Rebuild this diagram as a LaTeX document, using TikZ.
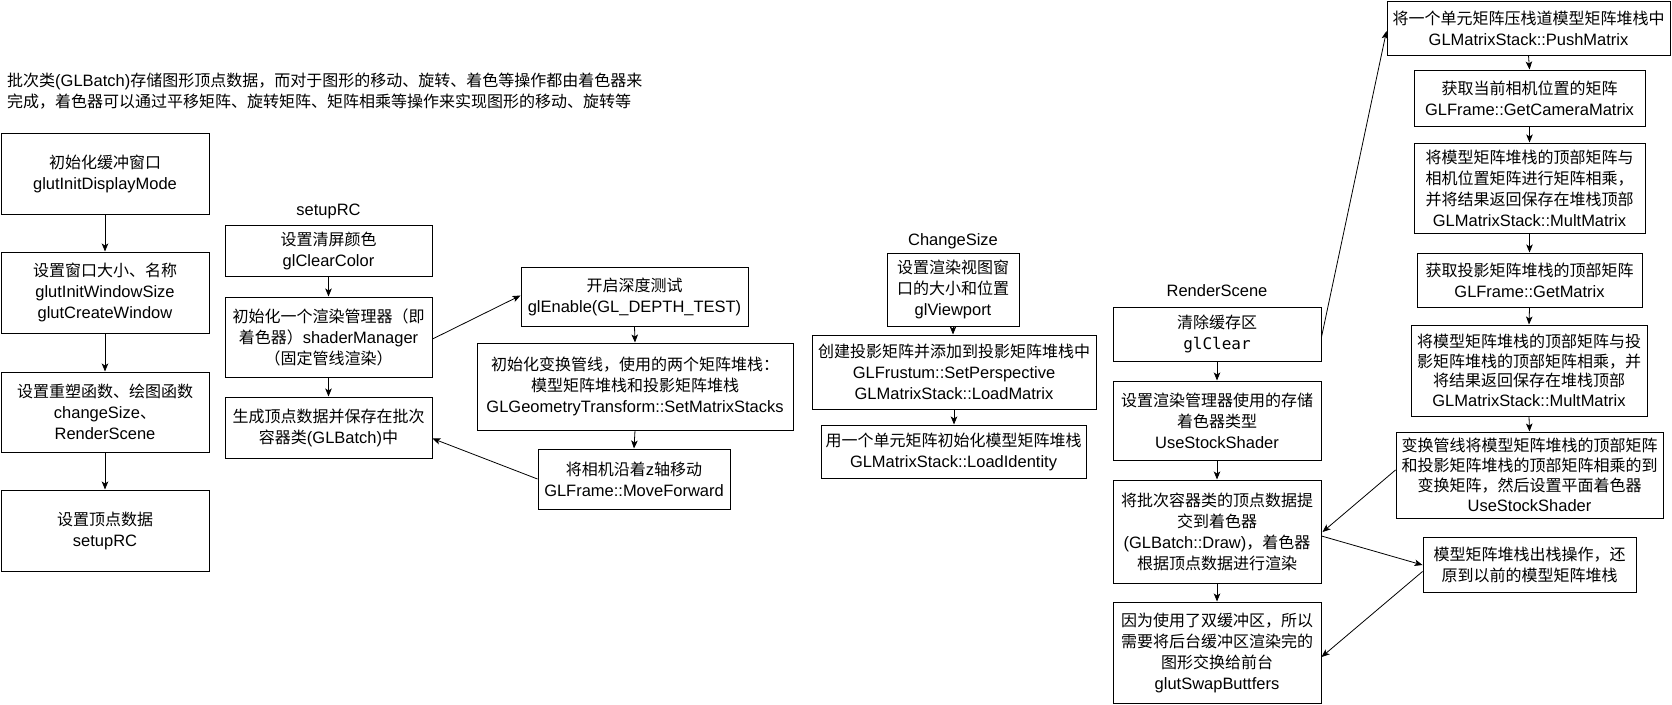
\documentclass[tikz,border=0pt]{standalone}
\usepackage{fontspec}
\setmainfont[Scale=1.03]{Liberation Sans}
\newfontfamily\zhfont{Noto Sans CJK SC}
\newfontfamily\codefont{DejaVu Sans Mono}
\newcommand\zh[1]{{\zhfont #1}}
\newcommand\fs{\fontsize{16}{21}\selectfont}
\usetikzlibrary{arrows.meta,calc}
\tikzset{
  box/.style={draw, line width=1pt, inner sep=0pt, align=center, font=\fs},
  lbl/.style={inner sep=0pt, font=\fs},
  arr/.style={-{Stealth[length=8pt,width=6.5pt,inset=2pt]}, line width=0.8pt},
}
\begin{document}
\begin{tikzpicture}[x=1pt,y=-1pt]
\useasboundingbox (0,0) rectangle (1672,704);

% intro text
\node[lbl, anchor=west, align=left] (intro) at (7,91)
  {\zh{批次类}(GLBatch)\zh{存储图形顶点数据，而对于图形的移动、旋转、着色等操作都由着色器来}\\
   \zh{完成，着色器可以通过平移矩阵、旋转矩阵、矩阵相乘等操作来实现图形的移动、旋转等}};

% left column
\node[box, minimum width=208pt, minimum height=81pt] (A1) at (105,173.5)
  {\zh{初始化缓冲窗口}\\glutInitDisplayMode};
\node[box, minimum width=208pt, minimum height=81pt] (A2) at (105,292.5)
  {\zh{设置窗口大小、名称}\\glutInitWindowSize\\glutCreateWindow};
\node[box, minimum width=208pt, minimum height=80pt] (A3) at (105,412)
  {\zh{设置重塑函数、绘图函数}\\changeSize\zh{、}\\RenderScene};
\node[box, minimum width=208pt, minimum height=81pt] (A4) at (105,530.5)
  {\zh{设置顶点数据}\\setupRC};
\draw[arr] (A1.south) -- (A2.north);
\draw[arr] (A2.south) -- (A3.north);
\draw[arr] (A3.south) -- (A4.north);

% setupRC
\node[lbl] (Bt) at (328.5,211) {setupRC};
\node[box, minimum width=207pt, minimum height=51pt] (B1) at (328.5,250.5)
  {\zh{设置清屏颜色}\\glClearColor};
\node[box, minimum width=207pt, minimum height=80pt] (B2) at (328.5,337)
  {\zh{初始化一个渲染管理器（即}\\\zh{着色器）}shaderManager\\\zh{（固定管线渲染）}};
\node[box, minimum width=207pt, minimum height=61pt] (B3) at (328.5,427.5)
  {\zh{生成顶点数据并保存在批次}\\\zh{容器类}(GLBatch)\zh{中}};
\draw[arr] (B1.south) -- (B2.north);
\draw[arr] (B2.south) -- (B3.north);

% middle
\node[box, minimum width=227pt, minimum height=59pt] (C1) at (634.5,296.5)
  {\zh{开启深度测试}\\glEnable(GL\_DEPTH\_TEST)};
\node[box, minimum width=316pt, minimum height=87pt] (C2) at (635,386.5)
  {\zh{初始化变换管线，使用的两个矩阵堆栈：}\\\zh{模型矩阵堆栈和投影矩阵堆栈}\\GLGeometryTransform::SetMatrixStacks};
\node[box, minimum width=192pt, minimum height=60pt] (C3) at (634,479)
  {\zh{将相机沿着}z\zh{轴移动}\\GLFrame::MoveForward};
\draw[arr] (C1.south) -- (C2.north);
\draw[arr] (C2.south) -- (C3.north);
\draw[arr] ($(B2.east)+(0,2)$) -- ($(C1.west)+(0,-1)$);
\draw[arr] ($(C3.west)+(0,0)$) -- ($(B3.east)+(0,11)$);

% ChangeSize
\node[lbl] (Dt) at (953,241) {ChangeSize};
\node[box, minimum width=132pt, minimum height=73pt] (D1) at (953,289.5)
  {\zh{设置渲染视图窗}\\\zh{口的大小和位置}\\glViewport};
\node[box, minimum width=284pt, minimum height=74pt] (D2) at (954,372)
  {\zh{创建投影矩阵并添加到投影矩阵堆栈中}\\GLFrustum::SetPerspective\\GLMatrixStack::LoadMatrix};
\node[box, minimum width=265pt, minimum height=53pt] (D3) at (953.5,451.5)
  {\zh{用一个单元矩阵初始化模型矩阵堆栈}\\GLMatrixStack::LoadIdentity};
\draw[arr] (D1.south) -- (D1.south |- D2.north);
\draw[arr] (D2.south) -- (D2.south |- D3.north);

% RenderScene
\node[lbl] (Et) at (1217,291) {RenderScene};
\node[box, minimum width=208pt, minimum height=54pt] (E1) at (1217,334)
  {\zh{清除缓存区}\\{\codefont glClear}};
\node[box, minimum width=208pt, minimum height=79pt] (E2) at (1217,420.5)
  {\zh{设置渲染管理器使用的存储}\\\zh{着色器类型}\\UseStockShader};
\node[box, minimum width=208pt, minimum height=103pt] (E3) at (1217,531.5)
  {\zh{将批次容器类的顶点数据提}\\\zh{交到着色器}\\(GLBatch::Draw)\zh{，着色器}\\\zh{根据顶点数据进行渲染}};
\node[box, minimum width=208pt, minimum height=101pt] (E4) at (1217,652.5)
  {\zh{因为使用了双缓冲区，所以}\\\zh{需要将后台缓冲区渲染完的}\\\zh{图形交换给前台}\\glutSwapButtfers};
\draw[arr] (E1.south) -- (E2.north);
\draw[arr] (E2.south) -- (E3.north);
\draw[arr] (E3.south) -- (E4.north);

% right column
\node[box, minimum width=283pt, minimum height=54pt] (F1) at (1528.5,28)
  {\zh{将一个单元矩阵压栈道模型矩阵堆栈中}\\GLMatrixStack::PushMatrix};
\node[box, minimum width=231pt, minimum height=56pt] (F2) at (1529.5,98)
  {\zh{获取当前相机位置的矩阵}\\GLFrame::GetCameraMatrix};
\node[box, minimum width=231pt, minimum height=90pt] (F3) at (1529.5,188)
  {\zh{将模型矩阵堆栈的顶部矩阵与}\\\zh{相机位置矩阵进行矩阵相乘，}\\\zh{并将结果返回保存在堆栈顶部}\\GLMatrixStack::MultMatrix};
\node[box, minimum width=225pt, minimum height=54pt] (F4) at (1529.5,280)
  {\zh{获取投影矩阵堆栈的顶部矩阵}\\GLFrame::GetMatrix};
\node[box, minimum width=236pt, minimum height=91pt, font=\fontsize{16}{19.5}\selectfont] (F5) at (1529,370.5)
  {\zh{将模型矩阵堆栈的顶部矩阵与投}\\\zh{影矩阵堆栈的顶部矩阵相乘，并}\\\zh{将结果返回保存在堆栈顶部}\\GLMatrixStack::MultMatrix};
\node[box, minimum width=267pt, minimum height=86pt, font=\fontsize{16}{20}\selectfont] (F6) at (1529.5,475)
  {\zh{变换管线将模型矩阵堆栈的顶部矩阵}\\\zh{和投影矩阵堆栈的顶部矩阵相乘的到}\\\zh{变换矩阵，然后设置平面着色器}\\UseStockShader};
\node[box, minimum width=213pt, minimum height=55pt] (F7) at (1529.5,564.5)
  {\zh{模型矩阵堆栈出栈操作，还}\\\zh{原到以前的模型矩阵堆栈}};
\draw[arr] (F1.south) -- (F2.north);
\draw[arr] (F2.south) -- (F3.north);
\draw[arr] (F3.south) -- (F4.north);
\draw[arr] (F4.south) -- (F5.north);
\draw[arr] (F5.south) -- (F6.north);

% cross connectors
\draw[arr] ($(E1.east)+(0,3)$) -- ($(F1.west)+(0,3)$);
\draw[arr] ($(F6.west)+(0,-5)$) -- ($(E3.east)+(1,0.5)$);
\draw[arr] ($(E3.east)+(0,4.5)$) -- ($(F7.west)+(0,0.5)$);
\draw[arr] ($(F7.west)+(0,7)$) -- ($(E4.east)+(0,4.5)$);
\end{tikzpicture}
\end{document}
